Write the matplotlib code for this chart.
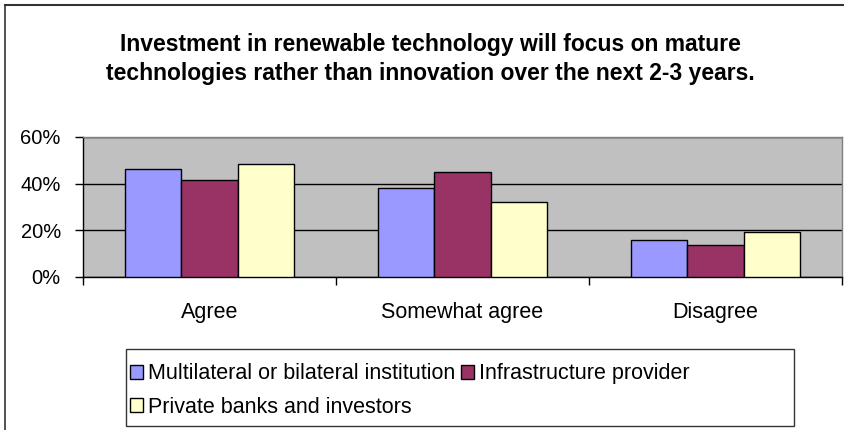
import numpy as np
import matplotlib.pyplot as plt
from matplotlib.lines import Line2D
from matplotlib.patches import Rectangle

plt.rcParams['font.family'] = ['Liberation Sans', 'DejaVu Sans']

# data
categories = ['Agree', 'Somewhat agree', 'Disagree']
series = ['Multilateral or bilateral institution', 'Infrastructure provider',
          'Private banks and investors']
multilateral = [46.3, 38.0, 15.7]
infrastructure = [41.4, 44.8, 13.6]
private = [48.3, 32.0, 19.1]
colors = ['#9999FF', '#993366', '#FFFFCC']
title = ('Investment in renewable technology will focus on mature\n'
         'technologies rather than innovation over the next 2-3 years.')

W, H = 844, 430
fig = plt.figure(figsize=(W / 100, H / 100), dpi=100)

# outer chart border (top and left visible)
fig.add_artist(Line2D([5 / W, 1.0], [1 - 5 / H, 1 - 5 / H], color='#333333', lw=1.5))
fig.add_artist(Line2D([5 / W, 5 / W], [0, 1 - 5 / H], color='#333333', lw=1.2))

ax = fig.add_axes([83 / W, (H - 277) / H, (842 - 83) / W, (277 - 137) / H])
ax.set_facecolor('#C0C0C0')

x = np.arange(len(categories))
bw = 1 / 4.5
vals = [multilateral, infrastructure, private]
bars = []
for i, v in enumerate(vals):
    b = ax.bar(x + (i - 1) * bw, v, width=bw, color=colors[i],
               edgecolor='black', linewidth=1.0, zorder=3, label=series[i])
    bars.append(b)

ax.set_xlim(-0.5, 2.5)
ax.set_ylim(0, 60)
ax.set_yticks([0, 20, 40, 60])
ax.set_yticklabels(['0%', '20%', '40%', '60%'], fontsize=14.5)
ax.yaxis.grid(True, color='black', lw=1.0, zorder=1)
ax.set_axisbelow(True)

ax.set_xticks(x)
ax.set_xticklabels(categories, fontsize=15.5)
ax.tick_params(axis='x', which='major', length=0, pad=18)
ax.set_xticks([-0.5, 0.5, 1.5, 2.5], minor=True)
ax.tick_params(axis='x', which='minor', length=6, direction='out', width=1)
ax.tick_params(axis='y', length=6, direction='out', width=1, pad=10)

for s in ['left', 'bottom']:
    ax.spines[s].set_color('black')
    ax.spines[s].set_linewidth(1.0)
for s in ['top', 'right']:
    ax.spines[s].set_color('#808080')
    ax.spines[s].set_linewidth(1.0)

fig.text(430 / W, 1 - 59 / H, title, ha='center', va='center',
         fontsize=16.5, fontweight='bold', linespacing=1.3)

# legend box drawn separately (Excel's box is wider than its entries)
fig.add_artist(Rectangle((126 / W, 1 - 426 / H), (794 - 126) / W, (426 - 349) / H,
                         transform=fig.transFigure, facecolor='white',
                         edgecolor='#333333', lw=1.0, zorder=2))
leg = fig.legend([bars[0], bars[2], bars[1]], [series[0], series[2], series[1]],
                 ncol=2, loc='upper left', bbox_to_anchor=(124 / W, 1 - 357 / H),
                 borderaxespad=0, frameon=False, fontsize=15.5,
                 handlelength=0.6, handleheight=0.6, handletextpad=0.2,
                 columnspacing=0.3, labelspacing=0.56, borderpad=0.3)
leg.set_zorder(3)

fig.savefig('out.png', dpi=100)
